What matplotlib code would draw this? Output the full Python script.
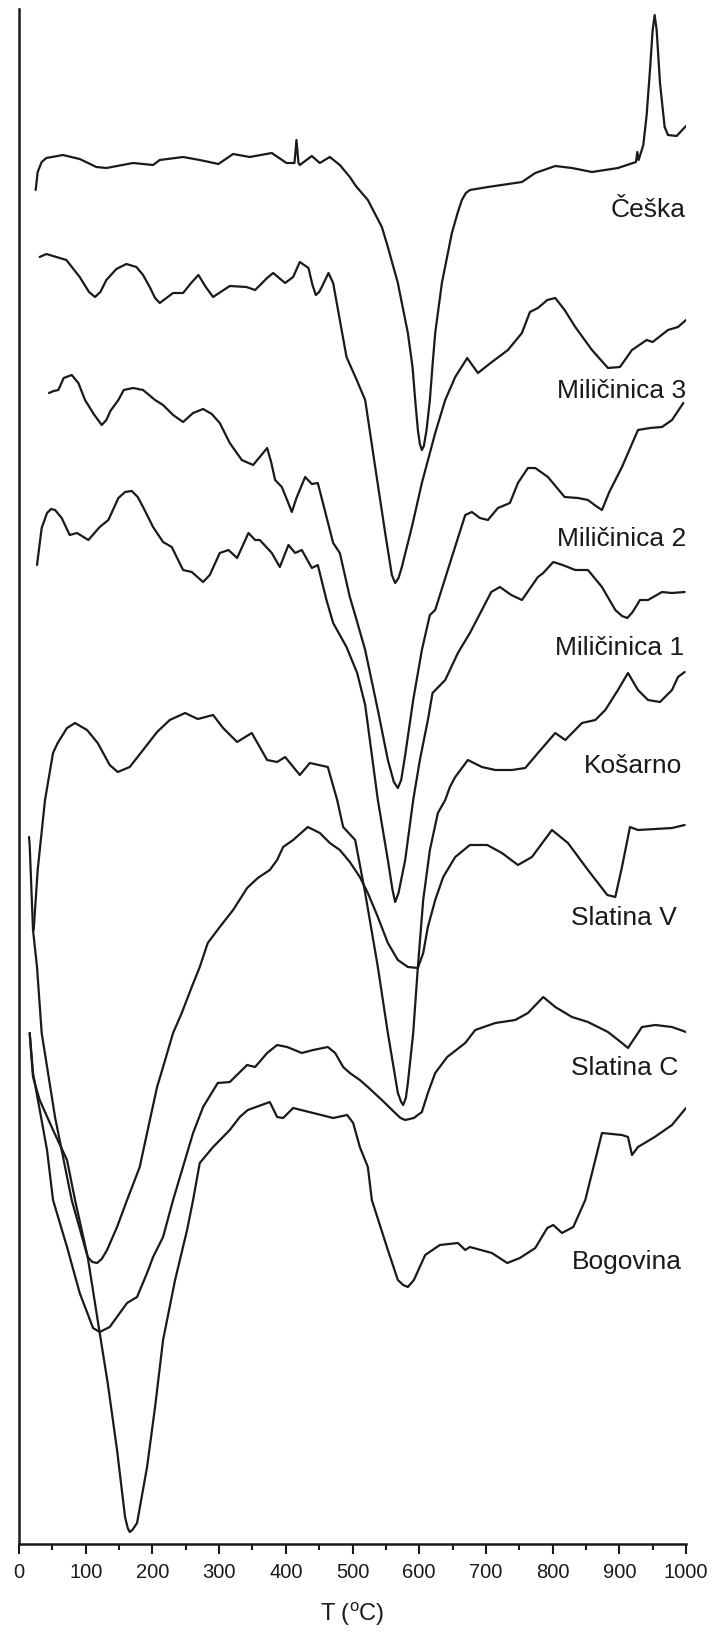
import matplotlib
matplotlib.use("Agg")
import matplotlib.pyplot as plt

plt.rcParams['font.family'] = ['Liberation Sans', 'DejaVu Sans']

# DTA traces: temperature (C) and signal (a.u., curves stacked, larger = lower on the plot)
ceska_T = [25, 28, 34, 41, 66, 91, 116, 131, 171, 201, 211, 246, 271, 299, 321, 346, 379, 401, 413, 416, 419,
           421, 439, 451, 466, 481, 496, 505, 523, 544, 553, 568, 583, 590, 594, 598, 601, 604, 607, 611, 616, 620,
           624, 634, 649, 658, 664, 670, 676, 703, 754, 774, 804, 829, 859, 898, 925, 927, 929, 936, 941, 946, 950,
           953, 956, 961, 968, 973, 986, 1000]
ceska_s = [190, 172, 162, 158, 155, 159, 167, 168, 163, 165, 160, 157, 160, 164, 154, 157, 153, 163, 163, 140, 163,
           165, 156, 163, 157, 165, 177, 186, 200, 227, 247, 283, 333, 367, 400, 430, 444, 450, 446, 430, 400, 365,
           333, 283, 233, 212, 200, 193, 190, 187, 182, 173, 166, 168, 172, 168, 162, 152, 160, 145, 115, 70, 30,
           15, 30, 83, 127, 135, 136, 126]

mil3_T = [31, 41, 71, 91, 105, 114, 122, 131, 146, 161, 176, 186, 196, 204, 211, 219, 231, 246, 258, 269, 280, 291,
          300, 316, 341, 354, 372, 381, 390, 399, 411, 421, 434, 440, 445, 450, 454, 464, 471, 481, 491, 505, 519,
          534, 549, 559, 564, 569, 574, 589, 604, 624, 639, 654, 672, 688, 709, 733, 754, 766, 778, 792, 804, 818,
          834, 859, 883, 901, 919, 941, 950, 973, 988, 1000]
mil3_s = [257, 254, 260, 277, 292, 297, 292, 280, 269, 264, 267, 275, 287, 298, 303, 299, 293, 293, 283, 275, 287, 297,
          293, 286, 287, 290, 278, 273, 278, 283, 277, 262, 268, 285, 295, 292, 287, 273, 283, 320, 357, 378, 400,
          467, 533, 575, 583, 578, 567, 527, 483, 433, 400, 377, 358, 373, 362, 350, 333, 312, 308, 300, 298, 310,
          327, 350, 368, 367, 350, 340, 342, 330, 327, 320]

mil2_T = [45, 52, 59, 67, 79, 89, 99, 112, 124, 131, 137, 149, 157, 171, 186, 204, 216, 231, 246, 261, 276, 289, 301,
          316, 334, 351, 361, 372, 378, 384, 394, 402, 409, 416, 429, 439, 448, 471, 481, 496, 504, 519, 538, 553, 562,
          568, 573, 579, 591, 604, 616, 624, 649, 669, 679, 691, 703, 718, 736, 748, 763, 774, 793, 818, 838, 853, 865,
          874, 885, 904, 928, 946, 964, 979, 996]
mil2_s = [393, 391, 390, 378, 375, 383, 400, 414, 425, 420, 411, 400, 390, 388, 390, 400, 405, 415, 422, 413, 409, 414, 423,
          443, 460, 465, 457, 448, 462, 480, 487, 500, 512, 498, 477, 484, 483, 543, 553, 597, 615, 650, 710, 760, 782,
          788, 780, 755, 700, 650, 615, 610, 557, 515, 512, 518, 520, 508, 503, 483, 468, 468, 477, 497, 498, 500, 506,
          510, 492, 467, 430, 428, 427, 420, 403]

mil1_T = [27, 34, 42, 48, 54, 64, 76, 87, 104, 121, 134, 149, 159, 169, 178, 186, 201, 216, 229, 246, 259, 276, 286,
          301, 314, 327, 344, 354, 361, 379, 391, 404, 414, 424, 439, 448, 461, 471, 491, 507, 519, 538, 553, 560, 564,
          569, 579, 591, 601, 613, 620, 639, 658, 676, 694, 708, 721, 738, 754, 778, 786, 801, 815, 834, 853, 874, 894,
          904, 912, 920, 931, 943, 964, 979, 998]
mil1_s = [565, 528, 513, 509, 510, 518, 535, 533, 540, 527, 520, 498, 492, 491, 497, 507, 527, 542, 547, 570, 572, 582, 575,
          553, 550, 558, 533, 540, 540, 553, 567, 545, 553, 550, 568, 565, 600, 623, 647, 673, 705, 800, 860, 890, 902,
          893, 860, 800, 760, 720, 693, 680, 653, 633, 610, 592, 587, 595, 600, 577, 573, 562, 565, 570, 570, 587, 610,
          616, 618, 612, 600, 600, 592, 593, 592]

kosarno_T = [22, 28, 39, 51, 58, 72, 84, 102, 118, 136, 148, 166, 186, 207, 226, 249, 268, 291, 306, 327, 349, 372,
             387, 399, 421, 436, 463, 477, 486, 504, 519, 538, 553, 568, 573, 576, 580, 583, 591, 598, 606, 616, 628,
             639, 646, 654, 673, 694, 714, 739, 759, 778, 804, 819, 844, 864, 879, 898, 913, 928, 943, 961, 979, 988, 998]
kosarno_s = [930, 870, 800, 753, 743, 728, 723, 730, 743, 765, 772, 767, 750, 732, 720, 713, 719, 715, 728, 742, 733, 760,
             762, 757, 775, 763, 767, 800, 827, 840, 893, 967, 1033, 1093, 1102, 1105, 1098, 1083, 1033, 967, 900, 850, 813,
             800, 787, 777, 760, 767, 770, 770, 768, 753, 733, 740, 723, 720, 710, 690, 673, 690, 700, 702, 690, 677, 672]

slatv_T = [15, 16, 21, 27, 34, 54, 79, 103, 110, 117, 124, 132, 147, 162, 181, 192, 207, 216, 231, 244, 259, 271, 283,
           301, 321, 342, 358, 376, 387, 396, 411, 433, 451, 466, 481, 496, 511, 523, 538, 553, 568, 583, 598, 606, 613,
           624, 636, 654, 676, 702, 724, 748, 769, 799, 823, 853, 882, 894, 904, 916, 928, 954, 979, 998]
slatv_s = [837, 845, 930, 967, 1033, 1117, 1200, 1257, 1262, 1263, 1259, 1250, 1227, 1200, 1167, 1133, 1087, 1067, 1033, 1013,
           987, 967, 943, 927, 910, 888, 878, 870, 860, 847, 840, 827, 833, 843, 850, 862, 877, 893, 917, 943, 960, 967, 968,
           953, 927, 900, 877, 857, 845, 845, 853, 865, 857, 830, 843, 870, 895, 897, 867, 827, 830, 829, 828, 825]

slatc_T = [16, 21, 42, 51, 72, 91, 111, 121, 136, 162, 177, 192, 201, 216, 231, 261, 276, 298, 316, 342, 354, 372, 387,
           402, 424, 441, 463, 474, 486, 496, 511, 523, 544, 564, 572, 579, 592, 604, 613, 624, 642, 669, 684, 714, 744,
           763, 786, 804, 829, 853, 883, 904, 913, 934, 954, 979, 1000]
slatc_s = [1033, 1073, 1150, 1200, 1247, 1293, 1328, 1332, 1327, 1303, 1297, 1273, 1257, 1237, 1200, 1133, 1107, 1083, 1082, 1065,
           1067, 1053, 1045, 1047, 1053, 1050, 1047, 1053, 1067, 1073, 1080, 1087, 1100, 1113, 1118, 1120, 1118, 1112, 1093,
           1073, 1057, 1043, 1030, 1023, 1020, 1013, 997, 1007, 1017, 1022, 1032, 1043, 1048, 1027, 1025, 1027, 1032]

bogov_T = [16, 21, 31, 51, 72, 84, 103, 121, 133, 147, 159, 163, 166, 170, 177, 192, 204, 216, 234, 252, 261, 271, 291,
           316, 331, 343, 376, 387, 396, 411, 441, 471, 492, 501, 511, 523, 529, 553, 568, 576, 583, 592, 609, 631, 658,
           669, 676, 709, 732, 751, 774, 792, 801, 814, 831, 849, 874, 904, 913, 919, 928, 953, 979, 1000]
bogov_s = [1033, 1077, 1100, 1130, 1160, 1200, 1257, 1333, 1383, 1450, 1517, 1528, 1532, 1530, 1523, 1467, 1407, 1340, 1280,
           1230, 1200, 1163, 1147, 1130, 1117, 1110, 1102, 1117, 1118, 1108, 1113, 1118, 1115, 1123, 1147, 1167, 1200, 1250,
           1280, 1285, 1287, 1280, 1255, 1245, 1243, 1250, 1247, 1253, 1263, 1258, 1248, 1228, 1225, 1233, 1227, 1200, 1133,
           1135, 1137, 1155, 1147, 1137, 1125, 1108]

names = ['Češka', 'Miličinica 3', 'Miličinica 2', 'Miličinica 1', 'Košarno', 'Slatina V', 'Slatina C', 'Bogovina']
label_T = [1000, 1000, 1000, 997, 994, 986, 989, 994]
label_s = [210, 391, 539, 648, 766, 918, 1068, 1262]

curves = [(ceska_T, ceska_s), (mil3_T, mil3_s), (mil2_T, mil2_s), (mil1_T, mil1_s),
          (kosarno_T, kosarno_s), (slatv_T, slatv_s), (slatc_T, slatc_s), (bogov_T, bogov_s)]

fig = plt.figure(figsize=(7.15, 16.38), dpi=100)
ax = fig.add_axes([19 / 715, 94 / 1638, 667 / 715, 1535 / 1638])

ink = '#1a1a1a'
for T, s in curves:
    ax.plot(T, s, color=ink, lw=1.6, solid_joinstyle='round', solid_capstyle='round')

for name, x, y in zip(names, label_T, label_s):
    ax.text(x, y, name, ha='right', va='center', fontsize=19, color=ink)

ax.set_xlim(0, 1000)
ax.set_ylim(1544, 9)
ax.spines['top'].set_visible(False)
ax.spines['right'].set_visible(False)
for side in ['left', 'bottom']:
    ax.spines[side].set_linewidth(1.8)
    ax.spines[side].set_color(ink)
ax.set_yticks([])
ax.set_xticks(range(0, 1001, 100))
ax.set_xticks(range(50, 1000, 100), minor=True)
ax.tick_params(axis='x', which='major', length=7.5, width=1.5, direction='out', labelsize=14.5, pad=6, colors=ink)
ax.tick_params(axis='x', which='minor', length=4.5, width=1.5, direction='out', colors=ink)
ax.set_xlabel(r'T ($\mathregular{^o}$C)', fontsize=17, labelpad=14, color=ink)

fig.savefig('out.png', dpi=100)
